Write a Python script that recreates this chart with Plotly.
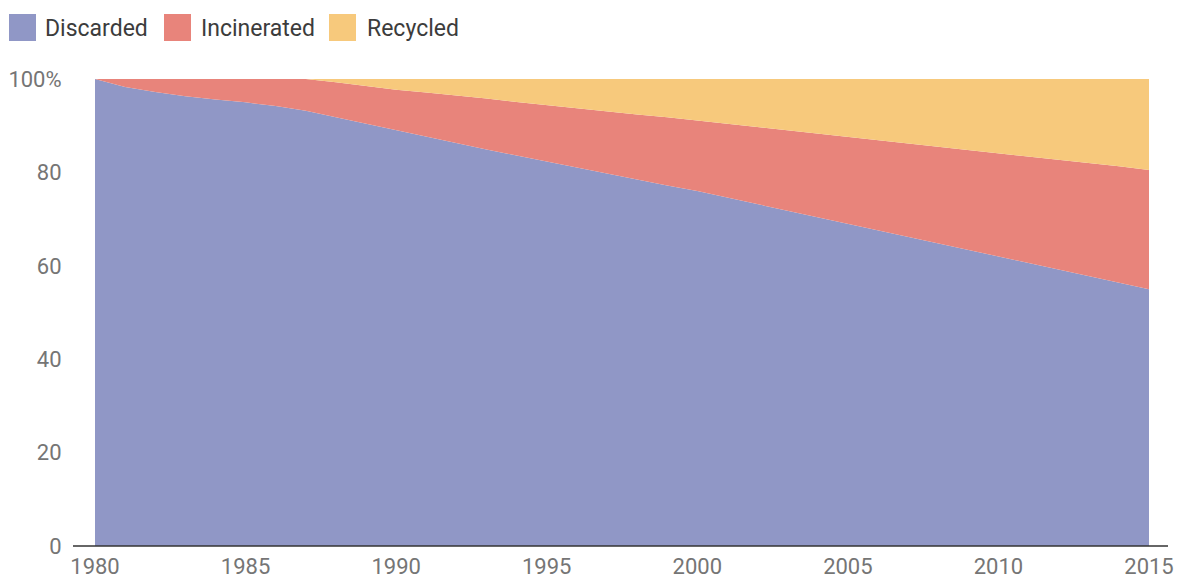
import plotly.graph_objects as go

# Share of plastic waste by fate, percent of total (1980-2015)
years = list(range(1980, 2016))

discarded = [
    100.0, 98.3, 97.2, 96.3, 95.6, 95.0, 94.2, 93.2, 91.8, 90.4,
    89.0, 87.6, 86.2, 84.9, 83.6, 82.3, 81.0, 79.7, 78.5, 77.2,
    76.0, 74.6, 73.2, 71.8, 70.4, 69.0, 67.6, 66.2, 64.8, 63.4,
    62.0, 60.6, 59.2, 57.8, 56.4, 55.0,
]
incinerated = [
    0.0, 1.7, 2.8, 3.7, 4.4, 5.0, 5.8, 6.8, 7.5, 8.1,
    8.7, 9.5, 10.3, 10.9, 11.5, 12.1, 12.8, 13.4, 13.9, 14.6,
    15.1, 15.8, 16.5, 17.2, 18.0, 18.7, 19.4, 20.1, 20.8, 21.5,
    22.2, 22.9, 23.6, 24.3, 24.9, 25.5,
]
recycled = [
    0.0, 0.0, 0.0, 0.0, 0.0, 0.0, 0.0, 0.0, 0.7, 1.5,
    2.3, 2.9, 3.5, 4.2, 4.9, 5.6, 6.2, 6.9, 7.6, 8.2,
    8.9, 9.6, 10.3, 11.0, 11.6, 12.3, 13.0, 13.7, 14.4, 15.1,
    15.8, 16.5, 17.2, 17.9, 18.7, 19.5,
]

series_names = ["Discarded", "Incinerated", "Recycled"]
series_values = [discarded, incinerated, recycled]
series_colors = ["#9097c6", "#e8847b", "#f7c97c"]

x_ticks = [1980, 1985, 1990, 1995, 2000, 2005, 2010, 2015]
y_ticks = [0, 20, 40, 60, 80, 100]
y_tick_text = ["0", "20", "40", "60", "80", "100%"]

W, H = 1183, 582
ML, MR, MT, MB = 95, 34, 79, 36
PW, PH = W - ML - MR, H - MT - MB


def px_x(px):
    return (px - ML) / PW


def px_y(py):
    return (H - MB - py) / PH


fig = go.Figure()
for name, vals, col in zip(series_names, series_values, series_colors):
    fig.add_trace(go.Scatter(
        x=years, y=vals, name=name, mode="lines",
        stackgroup="one", line=dict(width=0, color=col),
        fillcolor=col, showlegend=False,
        hovertemplate="%{x}: %{y:.1f}%<extra>" + name + "</extra>",
    ))

shapes = []
annotations = []

# baseline axis line, running a little past the plot on both sides
shapes.append(dict(type="line", xref="paper", yref="paper",
                   x0=px_x(73), x1=px_x(1168), y0=0, y1=0,
                   line=dict(color="#333333", width=1.6)))

# legend: square swatches with labels
legend_items = [(9, 43), (164, 199), (329, 365)]
for (sx, tx), name, col in zip(legend_items, series_names, series_colors):
    shapes.append(dict(type="rect", xref="paper", yref="paper",
                       x0=px_x(sx), x1=px_x(sx + 27),
                       y0=px_y(41), y1=px_y(14),
                       fillcolor=col, line=dict(width=0)))
    annotations.append(dict(xref="paper", yref="paper",
                            x=px_x(tx), y=px_y(28),
                            xanchor="left", yanchor="middle",
                            text=name, showarrow=False,
                            font=dict(family="Roboto", size=23, color="#3c3c3c")))

tick_font = dict(family="Roboto", size=22, color="#757575")

fig.update_layout(
    width=W, height=H,
    margin=dict(l=ML, r=MR, t=MT, b=MB),
    paper_bgcolor="white", plot_bgcolor="white",
    font=dict(family="Roboto", size=22, color="#757575"),
    showlegend=False,
    shapes=shapes,
    annotations=annotations,
    xaxis=dict(
        range=[1980, 2015], tickvals=x_ticks,
        ticktext=[str(v) for v in x_ticks],
        showgrid=False, zeroline=False, showline=False, automargin=False,
        ticks="outside", ticklen=1, tickcolor="rgba(0,0,0,0)",
        tickfont=tick_font,
    ),
    yaxis=dict(
        range=[0, 100], tickvals=y_ticks, ticktext=y_tick_text,
        showgrid=False, zeroline=False, showline=False, automargin=False,
        ticks="outside", ticklen=28, tickcolor="rgba(0,0,0,0)",
        tickfont=tick_font,
    ),
)

fig.write_html("out.html")
